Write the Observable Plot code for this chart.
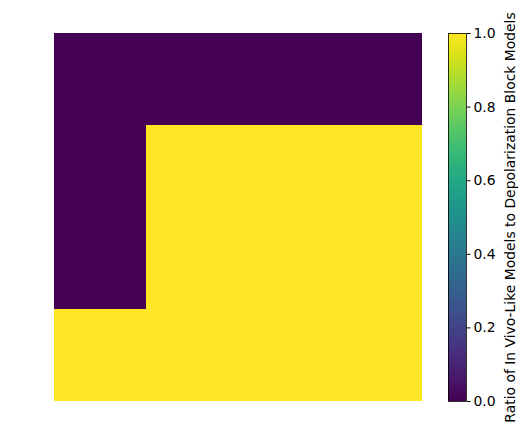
<!DOCTYPE html>
<html>
<head>
<meta charset="utf-8">
<script src="https://cdn.jsdelivr.net/npm/d3@7"></script>
<script src="https://cdn.jsdelivr.net/npm/@observablehq/plot@0.6"></script>
<style>
  html, body { margin: 0; padding: 0; background: #fff; }
  #wrap { position: relative; width: 527px; height: 436px; font-family: "DejaVu Sans", sans-serif; }
  #heat { position: absolute; left: 0; top: 0; }
  #cbar { position: absolute; left: 440px; top: 0; }
</style>
</head>
<body>
<div id="wrap"><div id="heat"></div><div id="cbar"></div></div>
<script>
// Data
const rows = [0, 1, 2, 3];
const cols = [0, 1, 2, 3];
const values = [
  [0, 0, 0, 0],
  [0, 1, 1, 1],
  [0, 1, 1, 1],
  [1, 1, 1, 1]
];
const colorbarTicks = [0, 0.2, 0.4, 0.6, 0.8, 1.0];
const colorbarLabel = "Ratio of In Vivo-Like Models to Depolarization Block Models";

const cells = [];
rows.forEach((r, i) => cols.forEach((c, j) => cells.push({row: r, col: c, value: values[i][j]})));

const colorOpts = {type: "linear", scheme: "viridis", domain: [0, 1]};

const heat = Plot.plot({
  width: 440, height: 436,
  marginLeft: 53, marginRight: 18, marginTop: 33, marginBottom: 35,
  x: {domain: cols, padding: 0, axis: null},
  y: {domain: rows, padding: 0, axis: null},
  color: colorOpts,
  marks: [
    Plot.cell(cells, {x: "col", y: "row", fill: "value", inset: 0, shapeRendering: "crispEdges"})
  ]
});
document.getElementById("heat").appendChild(heat);

const steps = d3.range(0, 1, 0.0025);
const cbar = Plot.plot({
  width: 87, height: 436,
  marginLeft: 8, marginRight: 61, marginTop: 33, marginBottom: 35,
  style: {fontFamily: "DejaVu Sans, sans-serif", fontSize: "13.9px", color: "#000", overflow: "visible"},
  x: {domain: [0, 1], axis: null},
  y: {domain: [0, 1], axis: null},
  color: colorOpts,
  marks: [
    Plot.rect(steps, {x1: 0, x2: 1, y1: d => d, y2: d => Math.min(1, d + 0.0035), fill: d => d + 0.00125, shapeRendering: "crispEdges"}),
    Plot.frame({stroke: "#000", strokeWidth: 0.8}),
    Plot.axisY({anchor: "right", ticks: colorbarTicks, tickFormat: d3.format(".1f"), tickSize: 3.5, tickPadding: 3.5, label: null, stroke: "#000", fill: "#000", fontSize: 13.9}),
    Plot.text([colorbarLabel], {frameAnchor: "right", dx: 44, rotate: -90, text: d => d, textAnchor: "middle", lineWidth: 100, fill: "#000", fontSize: 13.9})
  ]
});
document.getElementById("cbar").appendChild(cbar);
</script>
</body>
</html>
